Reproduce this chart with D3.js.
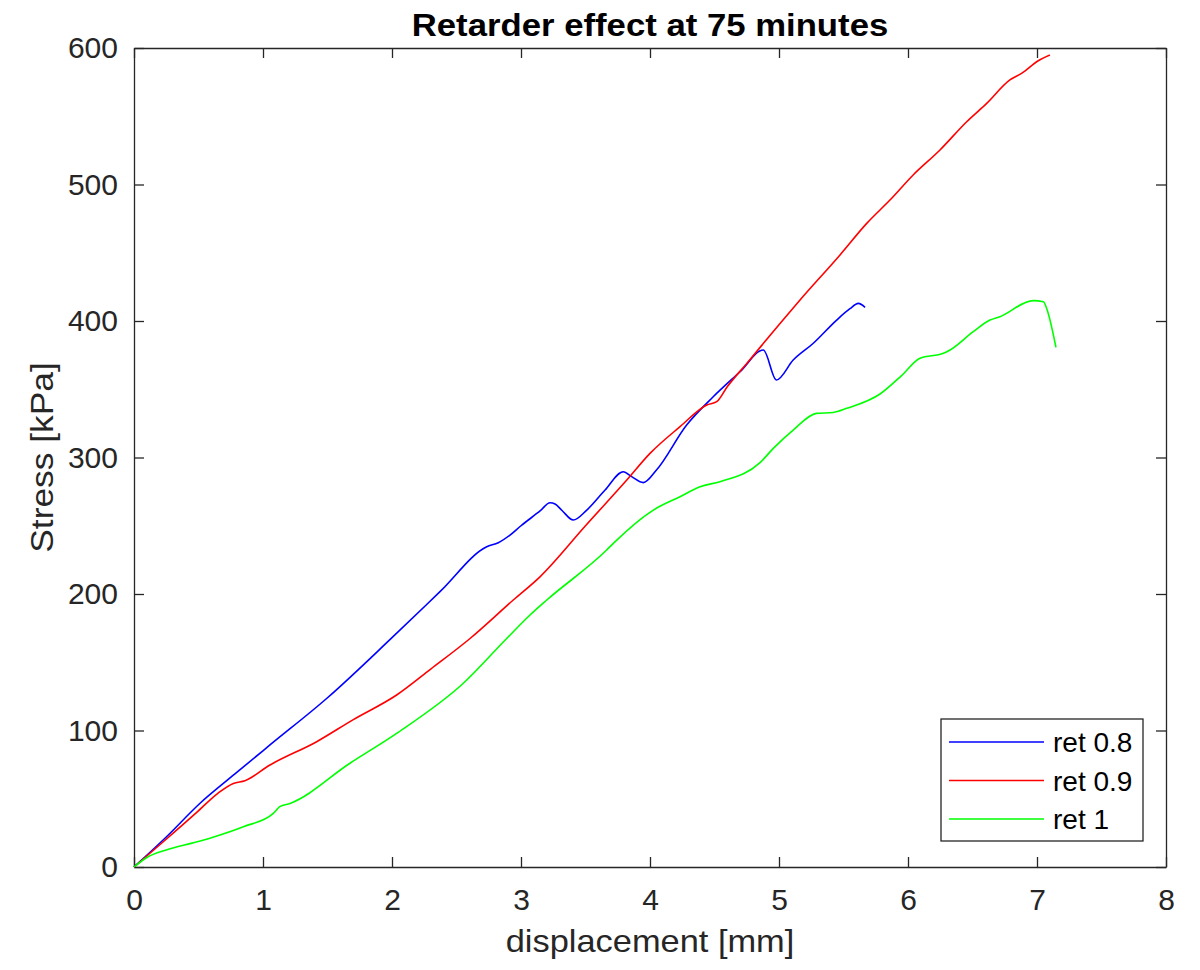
<!DOCTYPE html>
<html>
<meta charset="utf-8">
<style type="text/css">
	body { margin: 0; background: #fff; }
	svg { font-family: "Liberation Sans", Arial, Helvetica, sans-serif; }
	.axis path, .axis line { stroke: #262626; stroke-width: 1.3px; }
	.axis text { fill: #262626; font-size: 30px; }
	.series { fill: none; stroke-width: 1.6px; }
</style>
<svg width="1200" height="970"></svg>
<script src="https://d3js.org/d3.v7.min.js"></script>
<script>
	// displacement [mm] / stress [kPa]
	var ret08X = [0, 0.25, 0.512, 0.78, 1.054, 1.5, 2.0, 2.372, 2.734, 2.824, 2.915, 3.0, 3.15, 3.225, 3.264, 3.32, 3.405, 3.51, 3.65, 3.793, 3.858, 3.948, 4.05, 4.284, 4.49, 4.7, 4.879, 4.98, 5.11, 5.266, 5.447, 5.55, 5.615, 5.667];
	var ret08Y = [0, 22, 46.7, 68, 89.4, 124, 168, 201.7, 234.6, 237.6, 243.2, 250, 261, 266.9, 265.9, 261, 254.2, 261.5, 276, 289.6, 286, 281.6, 290.8, 323.8, 344.5, 363, 378.8, 356.8, 371.4, 383.7, 400.7, 409, 412.9, 410];

	var ret09X = [0, 0.227, 0.486, 0.65, 0.77, 0.86, 1.054, 1.416, 1.7, 2.036, 2.3, 2.605, 2.94, 3.147, 3.5, 3.82, 4.0, 4.233, 4.44, 4.517, 4.6, 4.75, 5.008, 5.163, 5.473, 5.68, 5.86, 6.04, 6.248, 6.455, 6.61, 6.79, 6.88, 7.01, 7.1];
	var ret09Y = [0, 18.5, 40, 54, 61.2, 63.2, 74.7, 91.8, 108, 126, 145, 167.4, 195.6, 212.6, 250, 283.5, 303, 322.6, 338.5, 340.9, 352, 368.9, 398.2, 415.4, 448.4, 471.5, 488.6, 507, 525.3, 546, 559.4, 576.6, 581.4, 590.7, 594.9];

	var ret1X = [0, 0.1, 0.25, 0.45, 0.6, 0.848, 1.08, 1.13, 1.21, 1.674, 2.036, 2.553, 2.889, 3.07, 3.2, 3.664, 3.716, 4.026, 4.233, 4.388, 4.543, 4.853, 4.956, 5.11, 5.29, 5.42, 5.525, 5.783, 5.95, 6.093, 6.274, 6.326, 6.506, 6.636, 6.713, 6.97, 7.05, 7.075, 7.147];
	var ret1Y = [0, 7, 12.5, 17.5, 21.5, 29.5, 39.3, 44.2, 46.6, 76, 97.9, 134.6, 167.4, 184.6, 195.6, 232.2, 237.1, 261.5, 271.3, 278.6, 282.3, 296.2, 306.7, 320.1, 332.3, 333, 336, 346.5, 360, 372.7, 376.3, 378.8, 392.2, 400.7, 403.2, 414.9, 414.1, 409.2, 380.7];

	var seriesNames = ['ret 0.8', 'ret 0.9', 'ret 1'];
	var seriesColors = ['#0000ff', '#ff0000', '#00ff00'];
	var xTicks = [0, 1, 2, 3, 4, 5, 6, 7, 8];
	var yTicks = [0, 100, 200, 300, 400, 500, 600];

	var svg = d3.select('svg'),
			margin = {top: 48, right: 34, bottom: 103, left: 134},
			width = +svg.attr('width') - margin.left - margin.right,
			height = +svg.attr('height') - margin.top - margin.bottom,
			g = svg.append('g').attr('transform', 'translate(' + margin.left + ',' + margin.top + ')');

	var x = d3.scaleLinear().domain([0, 8]).range([0, width]),
			y = d3.scaleLinear().domain([0, 600]).range([height, 0]);

	var series = [[ret08X, ret08Y], [ret09X, ret09Y], [ret1X, ret1Y]].map((s, i) => {
		return {name: seriesNames[i], color: seriesColors[i], values: s[0].map((d, j) => [d, s[1][j]])};
	});

	// axes, ticks pointing inwards on all four sides
	g.append('g').attr('class', 'axis')
			.attr('transform', 'translate(0,' + height + ')')
			.call(d3.axisBottom(x).tickValues(xTicks).tickSizeInner(-10).tickSizeOuter(0).tickPadding(22))
		.selectAll('text').attr('dy', '0.71em');
	g.append('g').attr('class', 'axis')
			.call(d3.axisTop(x).tickValues(xTicks).tickSizeInner(-10).tickSizeOuter(0).tickFormat(''));
	g.append('g').attr('class', 'axis')
			.call(d3.axisLeft(y).tickValues(yTicks).tickSizeInner(-10).tickSizeOuter(0).tickPadding(16));
	g.append('g').attr('class', 'axis')
			.attr('transform', 'translate(' + width + ',0)')
			.call(d3.axisRight(y).tickValues(yTicks).tickSizeInner(-10).tickSizeOuter(0).tickFormat(''));

	var line = d3.line()
			.curve(d3.curveMonotoneX)
			.x((d) => x(d[0]))
			.y((d) => y(d[1]));

	g.selectAll('.series')
			.data(series)
		.enter().append('path')
			.attr('class', 'series')
			.attr('stroke', (d) => d.color)
			.attr('d', (d) => line(d.values));

	// labels (the original font runs a little wider than Liberation Sans)
	svg.append('text')
			.attr('transform', 'translate(' + (margin.left + width / 2) + ',36) scale(1.12,1)')
			.attr('text-anchor', 'middle')
			.style('font-size', '31px')
			.style('font-weight', 'bold')
			.style('fill', '#000')
			.text('Retarder effect at 75 minutes');

	svg.append('text')
			.attr('transform', 'translate(' + (margin.left + width / 2) + ',952) scale(1.11,1)')
			.attr('text-anchor', 'middle')
			.style('font-size', '31px')
			.style('fill', '#262626')
			.text('displacement [mm]');

	svg.append('text')
			.attr('transform', 'translate(53,' + (margin.top + height / 2) + ') rotate(-90) scale(1.14,1)')
			.attr('text-anchor', 'middle')
			.style('font-size', '31px')
			.style('fill', '#262626')
			.text('Stress [kPa]');

	// legend
	var legend = svg.append('g').attr('transform', 'translate(941,719)');
	legend.append('rect')
			.attr('width', 202)
			.attr('height', 122)
			.attr('fill', '#fff')
			.attr('stroke', '#262626')
			.attr('stroke-width', 1.3);

	var item = legend.selectAll('.item')
			.data(series)
		.enter().append('g')
			.attr('class', 'item')
			.attr('transform', (d, i) => 'translate(0,' + (23 + i * 38.5) + ')');
	item.append('line')
			.attr('x1', 8).attr('x2', 103)
			.attr('stroke', (d) => d.color)
			.attr('stroke-width', 1.5);
	item.append('text')
			.attr('x', 112)
			.attr('dy', '0.36em')
			.style('font-size', '28px')
			.style('fill', '#000')
			.text((d) => d.name);
</script>
</html>
